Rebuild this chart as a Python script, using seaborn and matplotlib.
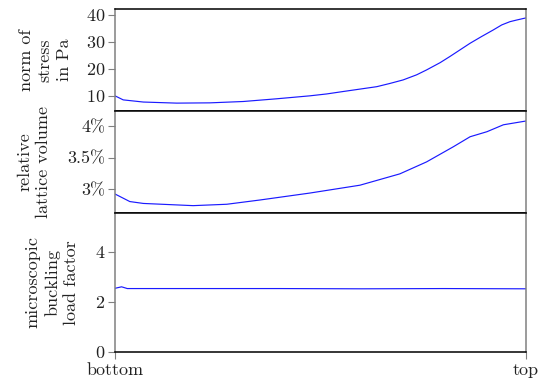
import matplotlib
matplotlib.use("Agg")
import matplotlib.pyplot as plt
import seaborn as sns
import pandas as pd

# Relative position along the specimen (0 = bottom, 1 = top)
stress_pos = [0.0, 0.020, 0.069, 0.150, 0.231, 0.312, 0.393, 0.474, 0.515,
              0.555, 0.596, 0.637, 0.669, 0.701, 0.734, 0.758, 0.791, 0.815,
              0.839, 0.864, 0.892, 0.920, 0.941, 0.961, 0.977, 1.0]
stress_pa = [10.0, 8.5, 7.7, 7.3, 7.4, 7.9, 8.9, 10.0, 10.7,
             11.6, 12.5, 13.4, 14.6, 15.9, 17.8, 19.6, 22.3, 24.6,
             27.0, 29.5, 32.0, 34.4, 36.3, 37.5, 38.1, 38.9]

volume_pos = [0.0, 0.036, 0.069, 0.190, 0.272, 0.353, 0.474, 0.596, 0.693,
              0.758, 0.823, 0.864, 0.905, 0.945, 1.0]
volume_pct = [2.92, 2.80, 2.77, 2.735, 2.757, 2.825, 2.935, 3.06, 3.24,
              3.43, 3.67, 3.83, 3.91, 4.02, 4.08]

buckling_pos = [0.0, 0.016, 0.030, 0.2, 0.4, 0.6, 0.8, 1.0]
buckling_factor = [2.53, 2.59, 2.52, 2.52, 2.52, 2.51, 2.52, 2.51]

x_ticks = [0.0, 1.0]
x_tick_labels = ["bottom", "top"]

stress_ticks = [10, 20, 30, 40]
volume_ticks = [3.0, 3.5, 4.0]
volume_tick_labels = ["3%", "3.5%", "4%"]
buckling_ticks = [0, 2, 4]

sns.set_theme(style="white")
plt.rcParams["font.family"] = ["cmr10", "DejaVu Serif"]
plt.rcParams["axes.formatter.use_mathtext"] = True

FS = 13
LINE = "#1a1aff"
GRAY = "#808080"

fig = plt.figure(figsize=(5.39, 3.84), dpi=100)
gs = fig.add_gridspec(3, 1, height_ratios=[102, 102, 138.7], hspace=0,
                      left=115 / 539, right=526 / 539,
                      top=1 - 9 / 384, bottom=1 - 351.5 / 384)
axes = [fig.add_subplot(gs[i]) for i in range(3)]

frames = [
    pd.DataFrame({"pos": stress_pos, "val": stress_pa}),
    pd.DataFrame({"pos": volume_pos, "val": volume_pct}),
    pd.DataFrame({"pos": buckling_pos, "val": buckling_factor}),
]
for ax, df in zip(axes, frames):
    sns.lineplot(data=df, x="pos", y="val", ax=ax, color=LINE, lw=0.85)
    ax.set_xlim(0, 1)
    ax.set_xlabel("")
    for side in ("left", "right"):
        ax.spines[side].set_color(GRAY)
        ax.spines[side].set_linewidth(1.1)
    for side in ("top", "bottom"):
        ax.spines[side].set_color("black")
        ax.spines[side].set_linewidth(1.1)
    ax.tick_params(axis="y", direction="out", length=5, width=0.8,
                   color=GRAY, pad=2, labelsize=FS, labelcolor="#222222",
                   left=True)

ax1, ax2, ax3 = axes

ax1.set_ylim(4.4, 42.2)
ax1.set_yticks(stress_ticks)
ax1.set_ylabel("norm of\nstress\nin Pa", fontsize=FS, linespacing=1.3)

ax2.set_ylim(2.62, 4.24)
ax2.set_yticks(volume_ticks)
ax2.set_yticklabels(volume_tick_labels)
ax2.set_ylabel("relative\nlattice volume", fontsize=FS, linespacing=1.3)

ax3.set_ylim(0, 5.55)
ax3.set_yticks(buckling_ticks)
ax3.set_ylabel("microscopic\nbuckling\nload factor", fontsize=FS, linespacing=1.3)

for ax in (ax1, ax2):
    ax.tick_params(axis="x", bottom=False, labelbottom=False)
ax3.set_xticks(x_ticks)
ax3.set_xticklabels(x_tick_labels)
ax3.tick_params(axis="x", direction="out", length=5, width=0.8, color=GRAY,
                pad=3, labelsize=FS, labelcolor="#222222", bottom=True)

for ax, xc in zip(axes, [-0.170, -0.197, -0.153]):
    ax.yaxis.label.set_verticalalignment("center")
    ax.yaxis.label.set_color("#222222")
    ax.yaxis.set_label_coords(xc, 0.5)

fig.savefig("out.png", dpi=100)
